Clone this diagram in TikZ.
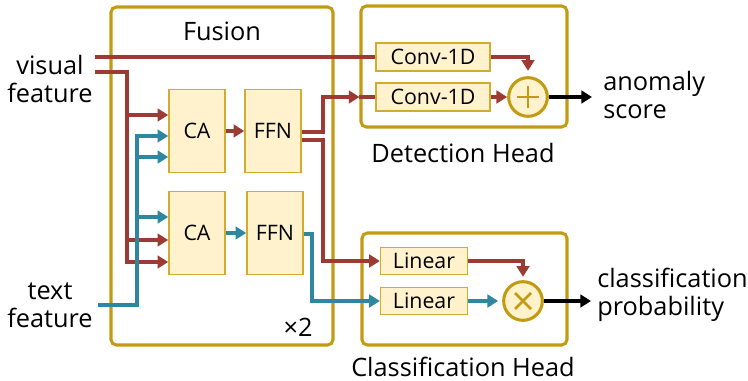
\documentclass[tikz,border=0pt]{standalone}
\usepackage{fontspec}
\setmainfont{Open Sans}
\usetikzlibrary{arrows.meta}
\definecolor{gold}{HTML}{C39B12}
\definecolor{blockline}{HTML}{D4AC2C}
\definecolor{blockfill}{HTML}{FFF2CC}
\definecolor{visred}{HTML}{9C3B33}
\definecolor{txtteal}{HTML}{2E86A0}

\begin{document}
\begin{tikzpicture}[x=0.75pt,y=-0.75pt,
  frame/.style={draw=gold,line width=2.3pt,rounded corners=4pt,inner sep=0pt},
  block/.style={draw=blockline,fill=blockfill,line width=1.2pt,inner sep=0pt,
    font=\fontsize{16}{16}\selectfont},
  opnode/.style={circle,draw=gold,fill=blockfill,line width=2.3pt,
    minimum size=29pt,inner sep=0pt},
  label/.style={font=\fontsize{19}{21}\selectfont,align=center,inner sep=0pt},
  vline/.style={draw=visred,line width=2.4pt},
  tline/.style={draw=txtteal,line width=2.4pt},
  oline/.style={draw=black,line width=2.4pt},
  tip/.style={-{Triangle[length=8pt,width=9.5pt]}}]
  \useasboundingbox (0,0) rectangle (748,381);

  \node[frame,minimum width=166.5pt,minimum height=253.5pt] (fusion) at (222,176) {};
  \node[frame,minimum width=154.5pt,minimum height=90.75pt] (det) at (464,66.5) {};
  \node[frame,minimum width=153.75pt,minimum height=84pt] (cls) at (464.5,289) {};

  \node[label] (fusionlbl) at (222,31) {Fusion};
  \node[label] (detlbl) at (463,153) {Detection Head};
  \node[label] (clslbl) at (463,367) {Classification Head};
  \node[label] (rep) at (298,327) {×2};
  \node[label] (visual) at (50,79) {visual\\feature};
  \node[label] (text) at (50,305) {text\\feature};
  \node[label,anchor=west,align=left] (anom) at (603,95) {anomaly\\score};
  \node[label,anchor=west,align=left] (prob) at (597,295) {classification\\probability};

  \node[block,minimum width=42pt,minimum height=62pt] (ca1) at (197,131) {CA};
  \node[block,minimum width=42pt,minimum height=62pt] (ffn1) at (273,131) {FFN};
  \node[block,minimum width=42pt,minimum height=62pt] (ca2) at (197,233) {CA};
  \node[block,minimum width=42pt,minimum height=62pt] (ffn2) at (275,233) {FFN};

  \node[block,minimum width=85.5pt,minimum height=21pt] (conv1) at (433,57) {Conv-1D};
  \node[block,minimum width=85.5pt,minimum height=21pt] (conv2) at (433,97) {Conv-1D};
  \node[block,minimum width=65pt,minimum height=20pt] (lin1) at (424,261) {Linear};
  \node[block,minimum width=65pt,minimum height=20pt] (lin2) at (424,301) {Linear};

  \node[opnode] (plus) at (528,97) {};
  \node[opnode] (times) at (523,301) {};
  \draw[gold,line width=2pt] ([xshift=-8.5pt]plus.center) -- ([xshift=8.5pt]plus.center)
    ([yshift=-8.5pt]plus.center) -- ([yshift=8.5pt]plus.center);
  \draw[gold,line width=2pt] ([shift={(-6pt,-6pt)}]times.center) -- ([shift={(6pt,6pt)}]times.center)
    ([shift={(-6pt,6pt)}]times.center) -- ([shift={(6pt,-6pt)}]times.center);

  \coordinate (v1) at (95,57);
  \coordinate (v2) at (95,72);
  \coordinate (t1) at (98,305);
  \coordinate (anomin) at (592,97);
  \coordinate (probin) at (591,301);

  \draw[vline] (v1) -- (conv1.west);
  \draw[vline,tip] (v2) -| (127,262) -- (ca2.west |- 0,262);
  \draw[vline,tip] (127,115) -- (ca1.west |- 0,115);
  \draw[vline,tip] (127,240) -- (ca2.west |- 0,240);
  \draw[tline,tip] (t1) -| (137,136) -- (ca1.west |- 0,136);
  \draw[tline,tip] (137,157) -- (ca1.west |- 0,157);
  \draw[tline,tip] (137,217) -- (ca2.west |- 0,217);

  \draw[vline,tip] (ca1) -- (ffn1);
  \draw[tline,tip] (ca2) -- (ffn2);

  \draw[vline,tip] (ffn1.east |- 0,132) -| (323,97) -- (det.west |- conv2);
  \draw[vline] (det.west |- conv2) -- (conv2.west);
  \draw[vline,tip] (ffn1.east |- 0,140) -| (323,261) -- (lin1.west);
  \draw[tline,tip] (ffn2.east |- 0,234) -| (312,301) -- (lin2.west);

  \draw[vline,tip,shorten >=4pt] (conv1.east) -| (plus.north);
  \draw[vline,tip] (conv2.east) -- (plus.west);
  \draw[vline,tip,shorten >=2.5pt] (lin1.east) -| (times.north);
  \draw[tline,tip,shorten >=3pt] (lin2.east) -- (times.west);

  \draw[oline,tip] (plus.east) -- (anomin);
  \draw[oline,tip] (times.east) -- (probin);
\end{tikzpicture}
\end{document}
